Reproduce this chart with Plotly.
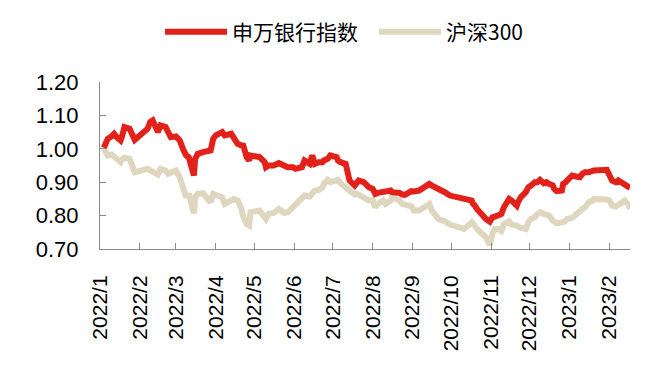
import plotly.graph_objects as go

dates = [
    "2022-01-04", "2022-01-07", "2022-01-10", "2022-01-12", "2022-01-14", "2022-01-17", "2022-01-18",
    "2022-01-20", "2022-01-24", "2022-01-25", "2022-01-28", "2022-02-07", "2022-02-09", "2022-02-11",
    "2022-02-14", "2022-02-15", "2022-02-17", "2022-02-21", "2022-02-23", "2022-02-25", "2022-03-01",
    "2022-03-04", "2022-03-07", "2022-03-09", "2022-03-11", "2022-03-15", "2022-03-16", "2022-03-18",
    "2022-03-22", "2022-03-28", "2022-03-30", "2022-04-01", "2022-04-06", "2022-04-08", "2022-04-13",
    "2022-04-15", "2022-04-18", "2022-04-21", "2022-04-22", "2022-04-25", "2022-04-27", "2022-04-28",
    "2022-05-05", "2022-05-09", "2022-05-10", "2022-05-12", "2022-05-16", "2022-05-20", "2022-05-24",
    "2022-05-27", "2022-05-31", "2022-06-02", "2022-06-07", "2022-06-09", "2022-06-13", "2022-06-15",
    "2022-06-17", "2022-06-20", "2022-06-23", "2022-06-24", "2022-06-27", "2022-06-29", "2022-07-04",
    "2022-07-05", "2022-07-07", "2022-07-11", "2022-07-14", "2022-07-18", "2022-07-19", "2022-07-21",
    "2022-07-25", "2022-07-27", "2022-07-29", "2022-08-01", "2022-08-03", "2022-08-05", "2022-08-09",
    "2022-08-11", "2022-08-15", "2022-08-16", "2022-08-19", "2022-08-22", "2022-08-24", "2022-08-26",
    "2022-08-31", "2022-09-02", "2022-09-06", "2022-09-08", "2022-09-13", "2022-09-14", "2022-09-16",
    "2022-09-19", "2022-09-21", "2022-09-26", "2022-09-30", "2022-10-11", "2022-10-14", "2022-10-17",
    "2022-10-18", "2022-10-19", "2022-10-21", "2022-10-25", "2022-10-28", "2022-10-31", "2022-11-01",
    "2022-11-02", "2022-11-04", "2022-11-07", "2022-11-09", "2022-11-11", "2022-11-15", "2022-11-17",
    "2022-11-21", "2022-11-22", "2022-11-24", "2022-11-28", "2022-11-29", "2022-11-30", "2022-12-02",
    "2022-12-05", "2022-12-07", "2022-12-09", "2022-12-12", "2022-12-14", "2022-12-16", "2022-12-19",
    "2022-12-20", "2022-12-22", "2022-12-26", "2022-12-27", "2022-12-29", "2022-12-30", "2023-01-03",
    "2023-01-06", "2023-01-09", "2023-01-11", "2023-01-13", "2023-01-16", "2023-01-19", "2023-01-20",
    "2023-01-30", "2023-01-31", "2023-02-01", "2023-02-02", "2023-02-03", "2023-02-06", "2023-02-07",
    "2023-02-08", "2023-02-10", "2023-02-13", "2023-02-14", "2023-02-16", "2023-02-17",
]

bank_index = [
    1.003, 1.030, 1.037, 1.045, 1.035, 1.025, 1.035,
    1.065, 1.060, 1.050, 1.027, 1.060, 1.080, 1.085,
    1.065, 1.050, 1.070, 1.065, 1.050, 1.035, 1.037,
    1.025, 0.995, 0.980, 0.975, 0.920, 0.970, 0.985,
    0.990, 0.995, 1.030, 1.040, 1.050, 1.040, 1.045,
    1.035, 1.015, 1.010, 1.015, 0.975, 0.965, 0.980,
    0.975, 0.960, 0.945, 0.950, 0.950, 0.957, 0.950,
    0.945, 0.945, 0.940, 0.945, 0.965, 0.955, 0.980,
    0.955, 0.960, 0.960, 0.965, 0.970, 0.980, 0.975,
    0.965, 0.960, 0.955, 0.905, 0.890, 0.895, 0.905,
    0.900, 0.890, 0.885, 0.880, 0.865, 0.868, 0.870,
    0.872, 0.875, 0.870, 0.870, 0.868, 0.863, 0.862,
    0.873, 0.872, 0.875, 0.880, 0.890, 0.895, 0.890,
    0.885, 0.877, 0.870, 0.860, 0.850, 0.847, 0.845,
    0.835, 0.832, 0.820, 0.800, 0.790, 0.782, 0.792,
    0.795, 0.797, 0.800, 0.805, 0.825, 0.850, 0.845,
    0.830, 0.840, 0.855, 0.870, 0.880, 0.885, 0.890,
    0.900, 0.900, 0.907, 0.897, 0.900, 0.895, 0.890,
    0.880, 0.873, 0.875, 0.895, 0.900, 0.905, 0.920,
    0.917, 0.915, 0.925, 0.930, 0.930, 0.933, 0.935,
    0.937, 0.930, 0.920, 0.910, 0.905, 0.900, 0.900,
    0.905, 0.900, 0.897, 0.895, 0.890, 0.883,
]

hs300 = [
    1.000, 0.980, 0.983, 0.975, 0.968, 0.960, 0.967,
    0.973, 0.970, 0.960, 0.930, 0.940, 0.935, 0.930,
    0.925, 0.923, 0.940, 0.935, 0.925, 0.930, 0.935,
    0.915, 0.875, 0.855, 0.865, 0.807, 0.855, 0.865,
    0.867, 0.840, 0.865, 0.863, 0.855, 0.835, 0.847,
    0.850, 0.845, 0.820, 0.800, 0.775, 0.770, 0.810,
    0.815, 0.800, 0.790, 0.805, 0.808, 0.820, 0.808,
    0.810, 0.825, 0.835, 0.850, 0.860, 0.857, 0.865,
    0.875, 0.877, 0.885, 0.895, 0.907, 0.900, 0.905,
    0.907, 0.897, 0.887, 0.875, 0.863, 0.865, 0.863,
    0.855, 0.850, 0.845, 0.845, 0.825, 0.835, 0.845,
    0.835, 0.845, 0.855, 0.850, 0.845, 0.835, 0.832,
    0.828, 0.815, 0.815, 0.820, 0.830, 0.835, 0.815,
    0.795, 0.790, 0.783, 0.773, 0.760, 0.770, 0.780,
    0.775, 0.772, 0.760, 0.745, 0.735, 0.712, 0.735,
    0.745, 0.760, 0.760, 0.755, 0.775, 0.783, 0.773,
    0.770, 0.767, 0.763, 0.760, 0.775, 0.780, 0.790,
    0.795, 0.805, 0.810, 0.805, 0.800, 0.800, 0.785,
    0.780, 0.777, 0.780, 0.780, 0.785, 0.790, 0.793,
    0.805, 0.815, 0.820, 0.825, 0.840, 0.845, 0.850,
    0.848, 0.848, 0.845, 0.837, 0.830, 0.827, 0.830,
    0.835, 0.840, 0.845, 0.840, 0.832, 0.820,
]

series_names = ["申万银行指数", "沪深300"]

tick_dates = [
    "2022-01-01", "2022-02-01", "2022-03-01", "2022-04-01", "2022-05-01", "2022-06-01", "2022-07-01",
    "2022-08-01", "2022-09-01", "2022-10-01", "2022-11-01", "2022-12-01", "2023-01-01", "2023-02-01",
]
tick_labels = [
    "2022/1", "2022/2", "2022/3", "2022/4", "2022/5", "2022/6", "2022/7",
    "2022/8", "2022/9", "2022/10", "2022/11", "2022/12", "2023/1", "2023/2",
]
y_ticks = [0.70, 0.80, 0.90, 1.00, 1.10, 1.20]

FONT = "Liberation Sans, Arial, Noto Sans CJK SC, sans-serif"
RED = "#E3211B"
BEIGE = "#DFD6BF"
AXIS = "#888888"

fig = go.Figure()
fig.add_trace(go.Scatter(x=dates, y=hs300, name=series_names[1], mode="lines",
                         line=dict(color=BEIGE, width=6)))
fig.add_trace(go.Scatter(x=dates, y=bank_index, name=series_names[0], mode="lines",
                         line=dict(color=RED, width=6)))

# the page adds an 8px body margin; margins below compensate for it
fig.update_layout(
    width=672, height=372,
    margin=dict(l=92, r=50, t=74, b=131),
    paper_bgcolor="white", plot_bgcolor="white",
    font=dict(family=FONT, size=22, color="#000000"),
    showlegend=True,
    legend=dict(orientation="h", x=0.517, xanchor="center", y=0.935, yanchor="middle",
                yref="container", traceorder="reversed",
                font=dict(family="Noto Sans CJK SC, Liberation Sans, sans-serif", size=21, color="#000"),
                itemwidth=62, entrywidth=137, bgcolor="rgba(0,0,0,0)"),
    xaxis=dict(
        type="date", range=["2022-01-01", "2023-02-17"],
        tickvals=tick_dates, ticktext=tick_labels, tickangle=-90,
        showline=True, linecolor=AXIS, linewidth=1,
        ticks="inside", ticklen=6, tickcolor=AXIS,
        showgrid=False, zeroline=False, automargin=False,
        tickfont=dict(family=FONT, size=21, color="#000"),
        ticklabelstandoff=17,
    ),
    yaxis=dict(
        range=[0.70, 1.20], tickvals=y_ticks, tickformat=".2f",
        showline=True, linecolor=AXIS, linewidth=1,
        ticks="inside", ticklen=6, tickcolor=AXIS,
        showgrid=False, zeroline=False, automargin=False,
        tickfont=dict(family=FONT, size=22, color="#000"),
        ticklabelstandoff=16,
    ),
)

fig.write_html("out.html")
